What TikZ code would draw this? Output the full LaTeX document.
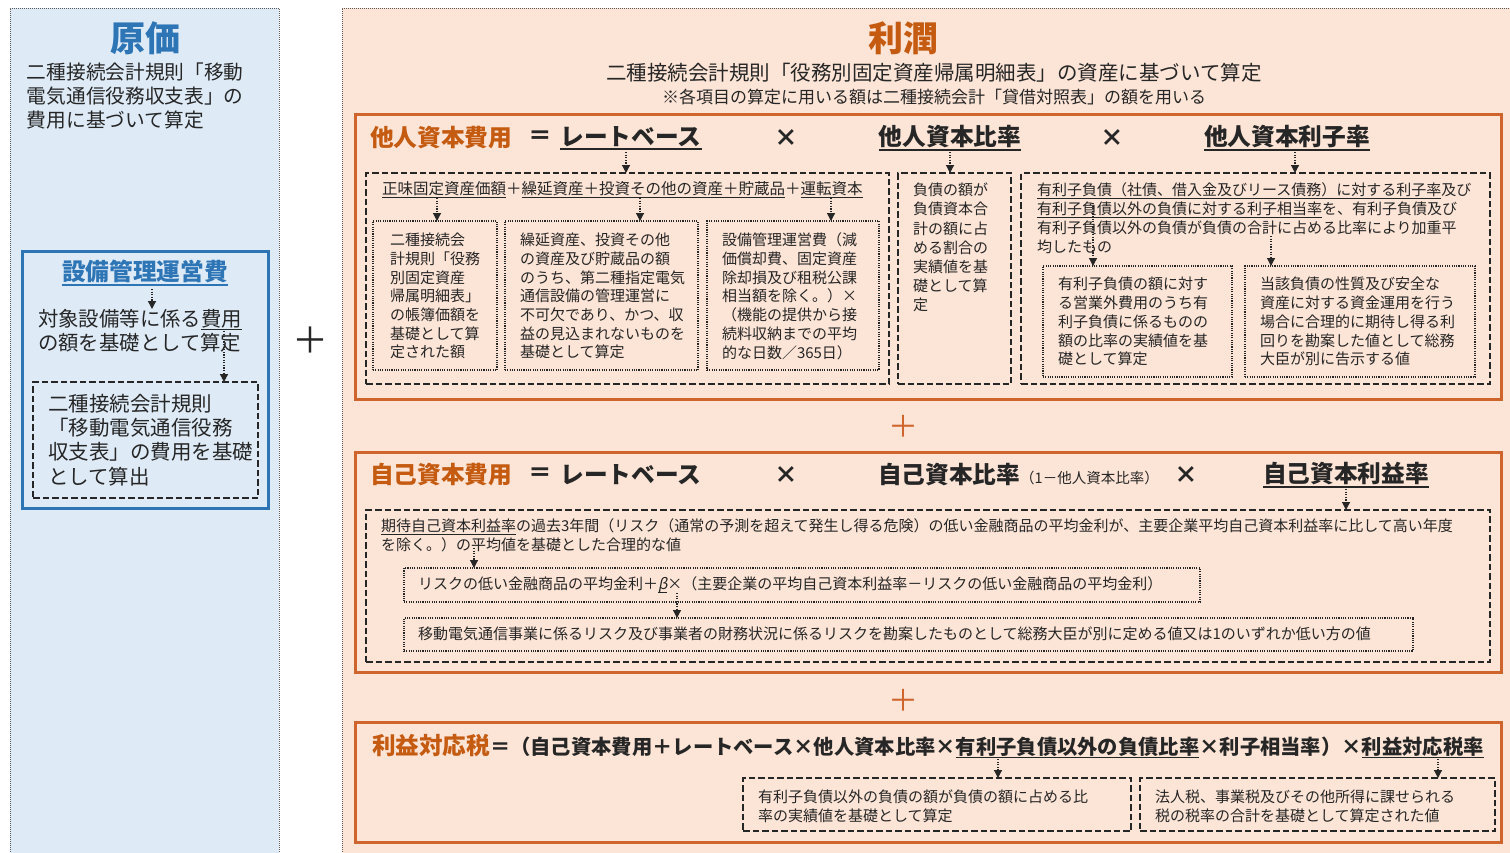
\documentclass[tikz,border=0pt]{standalone}
\usepackage{fontspec}
\setmainfont{Noto Sans CJK JP}
\usetikzlibrary{arrows.meta,fit}
\definecolor{txt}{RGB}{38,38,38}
\definecolor{blu}{RGB}{46,117,182}
\definecolor{bluefill}{RGB}{222,235,247}
\definecolor{peach}{RGB}{252,228,214}
\definecolor{orng}{RGB}{197,90,17}
\definecolor{orngb}{RGB}{207,100,45}
\newcommand\fs[2]{\fontsize{#1}{#2}\selectfont}
\newcommand\ulx[1]{\setbox0\hbox{#1}\rlap{\rule[-0.2em]{\wd0}{0.07em}}\box0}
\tikzset{
  every node/.style={inner sep=0pt, outer sep=0pt, text=txt},
  panelL/.style={draw=gray!70!black, line width=1pt, dash pattern=on 1pt off 1pt, fill=bluefill},
  panelR/.style={draw=gray!70!black, line width=1pt, dash pattern=on 1pt off 1pt, fill=peach},
  obox/.style={draw=orngb, line width=3pt},
  dbox/.style={draw=txt, line width=2.3pt, dash pattern=on 6.5pt off 3pt},
  dotbox/.style={draw=txt, line width=1.1pt, dash pattern=on 1.1pt off 1.2pt},
  arr/.style={draw=txt, line width=1.2pt, dash pattern=on 1.2pt off 1.4pt, -{Triangle[width=8pt,length=8pt]}},
  body/.style={font=\fs{15}{18.7}, align=left, anchor=north west},
  ttl/.style={font=\bfseries\fs{23.7}{24}},
  otl/.style={font=\bfseries\fs{23.7}{24}, text=orng, anchor=west},
  oplus/.style={font=\fs{30}{30}, text=orngb},
}
\begin{document}
\begin{tikzpicture}[x=1pt,y=-1pt]
\useasboundingbox (0,0) rectangle (1510,852);
% ---------------- left panel ----------------
\node[panelL, fit={(10,8)(279,855)}] (L) {};
\node[font=\bfseries\fs{35}{36}, text=blu] (genka) at (145,38) {原価};
\node[font=\fs{19.7}{24}, align=left, anchor=north west] (Ltxt) at (27,63) {二種接続会計規則「移動\\電気通信役務収支表」の\\費用に基づいて算定};
\node[draw=blu, line width=3pt, fit={(22,251)(268,508)}] (Lbox) {};
\node[font=\bfseries\fs{23.7}{24}, text=blu] (setsubi) at (145,273) {\ulx{設備管理運営費}};
\node[font=\fs{20.4}{24.3}, align=left, anchor=north west] (Ltxt2) at (38,309) {対象設備等に係る\ulx{費用}\\の額を基礎として算定};
\node[dbox, fit={(33,382)(258,498)}] (Ldb) {};
\node[font=\fs{20.5}{24.3}, align=left, anchor=north west] (Ltxt3) at (48,394) {二種接続会計規則\\「移動電気通信役務\\収支表」の費用を基礎\\として算出};
\coordinate (s0) at (152,289);
\draw[arr] (s0) -- (s0 |- Ltxt2.north);
\coordinate (s1) at (224,331);
\draw[arr] (s1) -- (s1 |- Ldb.north);
\node[font=\fs{36}{36}] (plus0) at (310,340) {＋};
% ---------------- right panel ----------------
\node[panelR, fit={(342,8)(1512,855)}] (R) {};
\node[font=\bfseries\fs{35}{36}, text=orng] (rijun) at (903,38) {利潤};
\node[font=\fs{20.5}{22}] (sub1) at (934,73) {二種接続会計規則「役務別固定資産帰属明細表」の資産に基づいて算定};
\node[font=\fs{17}{18}] (sub2) at (934,97) {※各項目の算定に用いる額は二種接続会計「貸借対照表」の額を用いる};
% ---- box 1
\node[obox, fit={(355,114)(1501,399)}] (B1) {};
\node[otl] (t1) at (370,138) {他人資本費用};
\node[ttl] (eq1) at (540,138) {＝};
\node[ttl] (rb1) at (631,138) {\ulx{レートベース}};
\node[ttl] (x1) at (786,138) {×};
\node[ttl] (tr1) at (950,138) {\ulx{他人資本比率}};
\node[ttl] (x2) at (1112,138) {×};
\node[ttl] (tk1) at (1287,138) {\ulx{他人資本利子率}};
\node[dbox, fit={(366,173)(889,384)}] (A) {};
\node[dbox, fit={(898,173)(1011,384)}] (Bb) {};
\node[dbox, fit={(1021,173)(1490,384)}] (C) {};
\coordinate (r1) at (626,152);
\draw[arr] (r1) -- (r1 |- A.north);
\coordinate (r2) at (950,152);
\draw[arr] (r2) -- (r2 |- Bb.north);
\coordinate (r3) at (1295,152);
\draw[arr] (r3) -- (r3 |- C.north);
\node[font=\fs{15.5}{18}, anchor=west] (Atxt) at (382,190) {\ulx{正味固定資産価額}＋\ulx{繰延資産＋投資その他の資産＋貯蔵品}＋\ulx{運転資本}};
\node[dotbox, fit={(373,221)(497,370)}] (a1) {};
\node[dotbox, fit={(505,221)(698,370)}] (a2) {};
\node[dotbox, fit={(707,221)(879,370)}] (a3) {};
\coordinate (p1) at (437,198);
\draw[arr] (p1) -- (p1 |- a1.north);
\coordinate (p2) at (640,198);
\draw[arr] (p2) -- (p2 |- a2.north);
\coordinate (p3) at (831,198);
\draw[arr] (p3) -- (p3 |- a3.north);
\node[body] (a1t) at (390,233) {二種接続会\\計規則「役務\\別固定資産\\帰属明細表」\\の帳簿価額を\\基礎として算\\定された額};
\node[body] (a2t) at (520,233) {繰延資産、投資その他\\の資産及び貯蔵品の額\\のうち、第二種指定電気\\通信設備の管理運営に\\不可欠であり、かつ、収\\益の見込まれないものを\\基礎として算定};
\node[body] (a3t) at (722,233) {設備管理運営費（減\\価償却費、固定資産\\除却損及び租税公課\\相当額を除く。）×\\（機能の提供から接\\続料収納までの平均\\的な日数／365日）};
\node[body, font=\fs{15}{19.2}] (Bt) at (913,183) {負債の額が\\負債資本合\\計の額に占\\める割合の\\実績値を基\\礎として算\\定};
\node[body, font=\fs{15}{19}] (Ct) at (1037,183) {\ulx{有利子負債（社債、借入金及びリース債務）に対する利子率}及び\\\ulx{有利子負債以外の負債に対する利子相当率}を、有利子負債及び\\有利子負債以外の負債が負債の合計に占める比率により加重平\\均したもの};
\node[dotbox, fit={(1043,266)(1232,377)}] (c1) {};
\node[dotbox, fit={(1245,266)(1475,377)}] (c2) {};
\coordinate (q1) at (1093,203);
\draw[arr] (q1) -- (q1 |- c1.north);
\coordinate (q2) at (1271,236);
\draw[arr] (q2) -- (q2 |- c2.north);
\node[body, font=\fs{15}{18.8}] (c1t) at (1058,277) {有利子負債の額に対す\\る営業外費用のうち有\\利子負債に係るものの\\額の比率の実績値を基\\礎として算定};
\node[body, font=\fs{15}{18.8}] (c2t) at (1260,277) {当該負債の性質及び安全な\\資産に対する資金運用を行う\\場合に合理的に期待し得る利\\回りを勘案した値として総務\\大臣が別に告示する値};
\node[oplus] (plus1) at (903,426) {＋};
% ---- box 2
\node[obox, fit={(355,452)(1501,672)}] (B2) {};
\node[otl] (t2) at (370,475) {自己資本費用};
\node[ttl] (eq2) at (540,475) {＝};
\node[ttl] (rb2) at (631,475) {レートベース};
\node[ttl] (x3) at (786,475) {×};
\node[ttl, anchor=west] (jr2) at (878,475) {自己資本比率{\mdseries\fs{14.5}{14}（1－他人資本比率）}};
\node[ttl] (x4) at (1186,475) {×};
\node[ttl] (jk2) at (1346,475) {\ulx{自己資本利益率}};
\node[dbox, fit={(366,510)(1490,662)}] (D) {};
\coordinate (r4) at (1346,489);
\draw[arr] (r4) -- (r4 |- D.north);
\node[body, font=\fs{15}{19}] (Dt) at (381,519) {\ulx{期待自己資本利益率}の過去3年間（リスク（通常の予測を超えて発生し得る危険）の低い金融商品の平均金利が、主要企業平均自己資本利益率に比して高い年度\\を除く。）の平均値を基礎とした合理的な値};
\node[dotbox, fit={(404,568)(1200,602)}] (e1) {};
\node[dotbox, fit={(404,618)(1413,651)}] (e2) {};
\coordinate (p4) at (474,548);
\draw[arr] (p4) -- (p4 |- e1.north);
\node[font=\fs{15}{18}, anchor=west] (e1t) at (418,585) {リスクの低い金融商品の平均金利＋\ulx{\addfontfeature{FakeSlant=0.2}β}×（主要企業の平均自己資本利益率－リスクの低い金融商品の平均金利）};
\coordinate (p5) at (677,593);
\draw[arr] (p5) -- (p5 |- e2.north);
\node[font=\fs{15}{18}, anchor=west] (e2t) at (418,634) {移動電気通信事業に係るリスク及び事業者の財務状況に係るリスクを勘案したものとして総務大臣が別に定める値又は1のいずれか低い方の値};
\node[oplus] (plus2) at (903,700) {＋};
% ---- box 3
\node[obox, fit={(355,722)(1501,842)}] (B3) {};
\node[anchor=west, font=\bfseries\fs{20.3}{22}] (t3) at (372,746) {{\color{orng}\fs{23.6}{24}利益対応税}＝（自己資本費用＋レートベース×他人資本比率×\ulx{有利子負債以外の負債比率}×利子相当率）×\ulx{利益対応税率}};
\node[dbox, fit={(743,778)(1131,831)}] (f1) {};
\node[dbox, fit={(1140,778)(1495,831)}] (f2) {};
\coordinate (u1) at (998,759);
\draw[arr] (u1) -- (u1 |- f1.north);
\coordinate (u2) at (1438,759);
\draw[arr] (u2) -- (u2 |- f2.north);
\node[body, font=\fs{15}{18.5}] (f1t) at (758,790) {有利子負債以外の負債の額が負債の額に占める比\\率の実績値を基礎として算定};
\node[body, font=\fs{15}{18.5}] (f2t) at (1155,790) {法人税、事業税及びその他所得に課せられる\\税の税率の合計を基礎として算定された値};
\end{tikzpicture}
\end{document}
